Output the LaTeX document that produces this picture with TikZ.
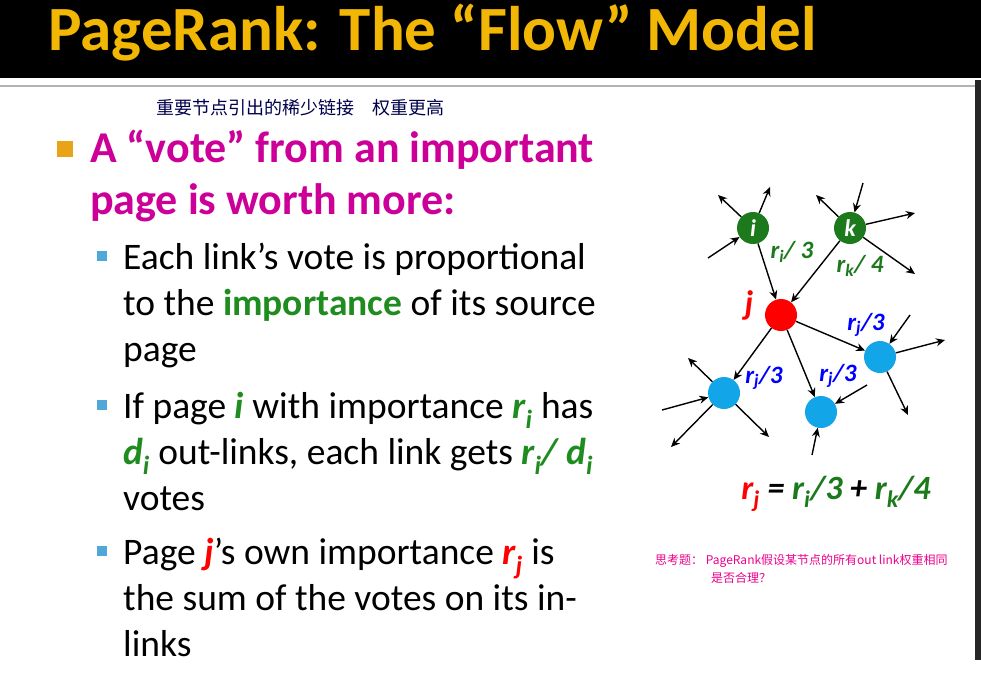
\documentclass[tikz,border=0pt]{standalone}
\usepackage{fontspec}
\usetikzlibrary{arrows.meta}
\setmainfont{Carlito}
\newfontfamily\cjk{Noto Sans CJK SC}
\newcommand\dn[1]{\textsubscript{#1}}
\definecolor{mag}{HTML}{CC0099}
\definecolor{gr}{HTML}{1E8C1E}
\definecolor{ttl}{HTML}{F2B705}
\definecolor{nblue}{HTML}{12A5E8}
\definecolor{ngreen}{HTML}{1C7A1C}
\definecolor{bul}{HTML}{E8A317}
\definecolor{sbul}{HTML}{4FA8D8}
\begin{document}
\begin{tikzpicture}[x=1pt,y=-1pt,
  nd/.style={circle,minimum size=32pt,inner sep=0pt},
  ar/.style={-{Stealth[length=9pt,width=8pt]},line width=1.4pt},
  body/.style={anchor=north west,align=left,inner sep=0pt,font=\fontsize{37.5}{46}\selectfont},
  lbl/.style={font=\fontsize{25}{25}\selectfont\bfseries\itshape}]
\useasboundingbox (0,0) rectangle (981,691);
\fill[white] (0,0) rectangle (981,691);
\fill[black] (0,0) rectangle (981,78);
\node[anchor=west,text=ttl,font=\fontsize{63}{63}\selectfont\bfseries] (title) at (45,33) {PageRank: The “Flow” Model};
\draw[gray!60,line width=1.5pt] (0,86) -- (975,86);
\fill[black!85] (975,80) rectangle (981,660);
\node[anchor=west,text=black!70!blue,font=\cjk\fontsize{18}{18}\selectfont] (n1) at (153,108) {重要节点引出的稀少链接\quad 权重更高};
\fill[bul] (57,141) rectangle (73,157) coordinate (b0);
\node[body,text=mag,font=\fontsize{44}{52}\selectfont\bfseries] (h) at (90,130) {A “vote” from an important\\page is worth more:};
\fill[sbul] (97,251) rectangle (107,261);
\node[body] (t1) at (123,243) {Each link’s vote is proportional\\to the \textcolor{gr}{\textbf{importance}} of its source\\page};
\fill[sbul] (97,400) rectangle (107,410);
\node[body] (t2) at (123,392) {If page \textcolor{gr}{\textbf{\textit{i}}} with importance \textcolor{gr}{\textbf{\textit{r\dn{i}}}} has\\\textcolor{gr}{\textbf{\textit{d\dn{i}}}} out-links, each link gets \textcolor{gr}{\textbf{\textit{r\dn{i}/ d\dn{i}}}}\\votes};
\fill[sbul] (97,546) rectangle (107,556);
\node[body] (t3) at (123,538) {Page \textcolor{red}{\textbf{\textit{j}}}’s own importance \textcolor{red}{\textbf{\textit{r\dn{j}}}} is\\the sum of the votes on its in-\\links};
% graph
\node[nd,fill=ngreen,text=white,font=\fontsize{24}{24}\selectfont\bfseries\itshape] (i) at (753,228) {i};
\node[nd,fill=ngreen,text=white,font=\fontsize{24}{24}\selectfont\bfseries\itshape] (k) at (850,228) {k};
\node[nd,fill=red] (j) at (781,315) {};
\node[nd,fill=nblue] (b1) at (724,393) {};
\node[nd,fill=nblue] (b2) at (821,412) {};
\node[nd,fill=nblue] (b3) at (880,357) {};
\node[text=red,font=\fontsize{34}{34}\selectfont\bfseries\itshape] (jl) at (749,305) {j};
\draw[ar] (i) -- (j);
\draw[ar] (k) -- (j);
\draw[ar] (j) -- (b1);
\draw[ar] (j) -- (b2);
\draw[ar] (j) -- (b3);
\coordinate (i1) at (708,258); \coordinate (i2) at (718,195); \coordinate (i3) at (770,187);
\draw[ar] (i1) -- (i); \draw[ar] (i) -- (i2); \draw[ar] (i) -- (i3);
\coordinate (k1) at (863,183); \coordinate (k2) at (816,195); \coordinate (k3) at (915,213); \coordinate (k4) at (915,274);
\draw[ar] (k1) -- (k); \draw[ar] (k) -- (k2); \draw[ar] (k) -- (k3); \draw[ar] (k) -- (k4);
\coordinate (c1) at (910,315); \coordinate (c2) at (945,340); \coordinate (c3) at (908,415);
\draw[ar] (c1) -- (b3); \draw[ar] (b3) -- (c2); \draw[ar] (b3) -- (c3);
\coordinate (a1) at (662,410); \coordinate (a2) at (688,358); \coordinate (a3) at (671,447); \coordinate (a4) at (769,437);
\draw[ar] (a1) -- (b1); \draw[ar] (b1) -- (a2); \draw[ar] (b1) -- (a3); \draw[ar] (b1) -- (a4);
\coordinate (d1) at (867,385); \coordinate (d2) at (812,455);
\draw[ar] (d1) -- (b2); \draw[ar] (d2) -- (b2);
\node[lbl,text=ngreen] (l1) at (792,252) {r\dn{i}/ 3};
\node[lbl,text=ngreen] (l2) at (860,266) {r\dn{k}/ 4};
\node[lbl,text=blue] (l3) at (866,325) {r\dn{j}/3};
\node[lbl,text=blue] (l4) at (764,378) {r\dn{j}/3};
\node[lbl,text=blue] (l5) at (838,376) {r\dn{j}/3};
\node[font=\fontsize{34}{34}\selectfont\bfseries\itshape] (eq) at (836,494) {\textcolor{red}{r\dn{j}} = \textcolor{ngreen}{r\dn{i}/3} + \textcolor{ngreen}{r\dn{k}/4}};
\node[anchor=north west,align=left,inner sep=0pt,text=magenta,font=\cjk\fontsize{12}{18}\selectfont] (n2) at (655,554) {思考题：\ PageRank假设某节点的所有out link权重相同\\\hspace*{56pt}是否合理？};
\end{tikzpicture}
\end{document}
